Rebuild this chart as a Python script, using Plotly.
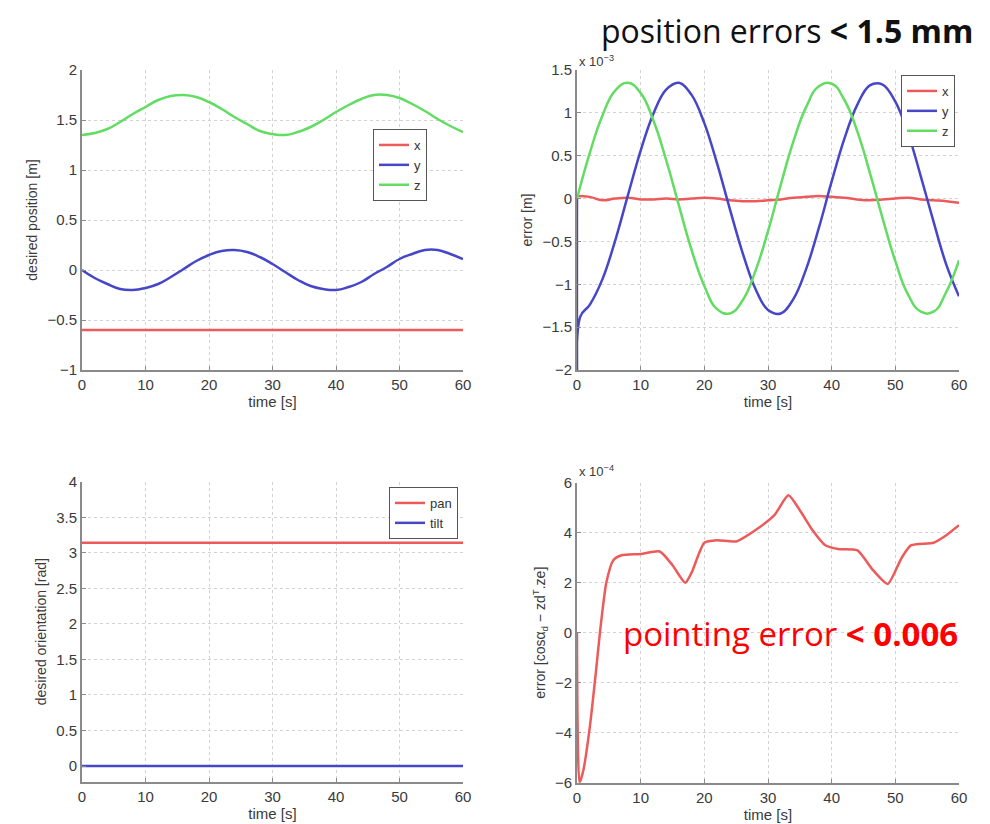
import plotly.graph_objects as go

# ---- data ----
time = list(range(0, 61, 2))

# desired position [m]
pos_x = [-0.6] * 31
pos_y = [0.0, -0.08, -0.14, -0.19, -0.20, -0.18, -0.14, -0.07, 0.01, 0.09, 0.15,
         0.19, 0.20, 0.18, 0.13, 0.06, -0.02, -0.10, -0.16, -0.19, -0.20, -0.17,
         -0.12, -0.04, 0.03, 0.11, 0.16, 0.20, 0.20, 0.16, 0.11]
pos_z = [1.35, 1.37, 1.41, 1.48, 1.56, 1.63, 1.70, 1.74, 1.75, 1.73, 1.68,
         1.61, 1.53, 1.46, 1.39, 1.36, 1.35, 1.38, 1.43, 1.50, 1.58, 1.65,
         1.71, 1.75, 1.75, 1.72, 1.66, 1.59, 1.51, 1.44, 1.38]

# position error [x 1e-3 m]
err_x = [0.03, 0.02, -0.02, 0.0, 0.01, -0.01, -0.01, 0.0, -0.01, 0.0, 0.01,
         0.0, -0.02, -0.03, -0.03, -0.02, -0.01, 0.01, 0.02, 0.03, 0.02, 0.01,
         -0.01, -0.02, -0.01, 0.0, 0.01, -0.01, -0.02, -0.03, -0.05]
time_err_y = [0.0, 0.1, 0.5] + list(range(2, 61, 2))
err_y = [0.0, -2.6, -1.38, -1.24, -0.94, -0.49, 0.04, 0.56, 0.99, 1.27, 1.35,
         1.21, 0.88, 0.41, -0.12, -0.63, -1.05, -1.30, -1.34, -1.17, -0.82,
         -0.34, 0.20, 0.70, 1.09, 1.32, 1.33, 1.13, 0.76, 0.26, -0.27, -0.77, -1.14]
err_z = [0.0, 0.53, 0.97, 1.26, 1.35, 1.23, 0.91, 0.45, -0.08, -0.60, -1.02,
         -1.29, -1.34, -1.19, -0.85, -0.38, 0.16, 0.67, 1.07, 1.31, 1.34, 1.15,
         0.79, 0.30, -0.23, -0.73, -1.12, -1.32, -1.32, -1.09, -0.72]

# desired orientation [rad]
ori_time = [0, 60]
ori_pan = [3.14, 3.14]
ori_tilt = [0.0, 0.0]

# pointing error [x 1e-4]
pt_time = [0, 0.4, 1, 2, 3, 3.6, 4.6, 5.7, 7, 10, 13, 15, 17, 18, 20, 22, 25,
           28, 31, 33.2, 35, 37, 39, 41, 44, 46.5, 48.8, 51, 52.5, 56, 58, 60]
pt_err = [0.0, -6.0, -5.5, -3.8, -1.5, 0.0, 2.0, 2.9, 3.1, 3.15, 3.25, 2.7,
          2.0, 2.4, 3.6, 3.7, 3.65, 4.1, 4.7, 5.5, 4.9, 4.1, 3.5, 3.35, 3.3,
          2.5, 1.95, 3.0, 3.5, 3.6, 3.9, 4.3]

RED = "#ec5a5a"
BLUE = "#4646c8"
GREEN = "#62dc62"
# the page body keeps an 8px margin, so the figure is drawn 8px in
PAD = 8
W, H = 990 - PAD, 824 - PAD
FONT = "Liberation Sans"
INK = "#3a3a3a"


def px_x(p):
    return (p - PAD) / W


def px_y(p):
    return 1 - (p - PAD) / H


fig = go.Figure()

def line(x, y, name, color, xa, ya, legend, show=True, smooth=1.3):
    fig.add_trace(go.Scatter(
        x=x, y=y, name=name, mode="lines", xaxis=xa, yaxis=ya,
        line=dict(color=color, width=2.5, shape="spline", smoothing=smooth),
        legend=legend, showlegend=show))

line(time, pos_x, "x", RED, "x", "y", "legend")
line(time, pos_y, "y", BLUE, "x", "y", "legend")
line(time, pos_z, "z", GREEN, "x", "y", "legend")

line(time, err_x, "x", RED, "x2", "y2", "legend2")
line(time_err_y, err_y, "y", BLUE, "x2", "y2", "legend2", smooth=1.1)
line(time, err_z, "z", GREEN, "x2", "y2", "legend2")

line(ori_time, ori_pan, "pan", RED, "x3", "y3", "legend3")
line(ori_time, ori_tilt, "tilt", BLUE, "x3", "y3", "legend3")

line(pt_time, pt_err, "err", RED, "x4", "y4", "legend", show=False, smooth=0.6)

axis_common = dict(
    showline=True, linecolor="#8a8a8a", linewidth=2, mirror=False,
    showgrid=True, gridcolor="#d2d2d2", griddash="dot", gridwidth=1,
    ticks="inside", ticklen=4, tickcolor="#8a8a8a",
    tickfont=dict(family=FONT, size=15, color=INK),
    zeroline=False, fixedrange=True, automargin=False,
)
xtitle = dict(text="time [s]", font=dict(family=FONT, size=15, color=INK), standoff=0)


def ytitle(text):
    return dict(text=text, font=dict(family=FONT, size=14, color=INK), standoff=6)

left = [px_x(82), px_x(463)]
right = [px_x(577), px_x(959)]
top = [px_y(370), px_y(70)]
bot_l = [px_y(781.7), px_y(481.7)]
bot_r = [px_y(782.7), px_y(482.7)]

xticks = dict(range=[0, 60], tickvals=list(range(0, 61, 10)))

fig.update_layout(
    width=W, height=H, margin=dict(l=0, r=0, t=0, b=0, autoexpand=False),
    paper_bgcolor="white", plot_bgcolor="white",
    font=dict(family=FONT, color=INK),
    xaxis=dict(domain=left, anchor="y", title=xtitle, **xticks, **axis_common),
    yaxis=dict(domain=top, anchor="x", range=[-1, 2], dtick=0.5,
               title=ytitle("desired position [m]"), **axis_common),
    xaxis2=dict(domain=right, anchor="y2", title=xtitle, **xticks, **axis_common),
    yaxis2=dict(domain=top, anchor="x2", range=[-2, 1.5], dtick=0.5,
                title=ytitle("error [m]"), **axis_common),
    xaxis3=dict(domain=left, anchor="y3", title=xtitle, **xticks, **axis_common),
    yaxis3=dict(domain=bot_l, anchor="x3", range=[-0.22, 4], dtick=0.5,
                title=ytitle("desired orientation [rad]"), **axis_common),
    xaxis4=dict(domain=right, anchor="y4", title=xtitle, **xticks, **axis_common),
    yaxis4=dict(domain=bot_r, anchor="x4", range=[-6, 6], dtick=2,
                title=ytitle("error [cosα<sub>d</sub> − zd<sup>T</sup>.ze]"), **axis_common),
)

legend_style = dict(
    bgcolor="white", bordercolor="#555", borderwidth=1,
    font=dict(family=FONT, size=13, color="#333"),
    xanchor="right", yanchor="top", tracegroupgap=0, itemwidth=30,
)
fig.update_layout(
    legend=dict(x=px_x(427), y=px_y(129), **legend_style),
    legend2=dict(x=px_x(955), y=px_y(75), **legend_style),
    legend3=dict(x=px_x(458), y=px_y(487), **legend_style),
)

# exponent labels and slide callouts
note = dict(xref="paper", yref="paper", showarrow=False, borderpad=0)
fig.add_annotation(x=px_x(578), y=px_y(61), text="x 10<sup>−3</sup>", xanchor="left",
                   yanchor="middle", font=dict(family=FONT, size=13, color=INK), **note)
fig.add_annotation(x=px_x(578), y=px_y(471), text="x 10<sup>−4</sup>", xanchor="left",
                   yanchor="middle", font=dict(family=FONT, size=13, color=INK), **note)
fig.add_annotation(x=px_x(974), y=1, text="position errors <b>&lt; 1.5 mm</b>",
                   xanchor="right", yanchor="top",
                   font=dict(family="Open Sans", size=32, color="#111"), **note)
fig.add_annotation(x=px_x(959), y=px_y(633), text="pointing error <b>&lt; 0.006</b>",
                   xanchor="right", yanchor="middle",
                   font=dict(family="Open Sans", size=33, color="#ff0000"), **note)

fig.write_html("out.html")
